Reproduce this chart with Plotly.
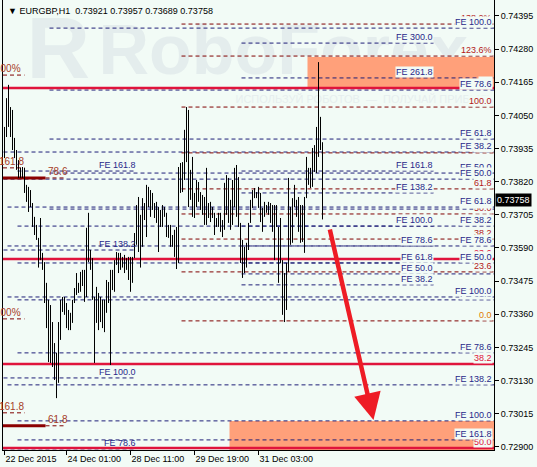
import plotly.graph_objects as go

# EURGBP H1 bars (bar 0 = first visible bar on the left)
highs = [0.74010, 0.74110, 0.74156, 0.74079, 0.74069, 0.73972, 0.73930, 0.73895, 0.73868, 0.73871,
         0.73868, 0.73809, 0.73802, 0.73791, 0.73746, 0.73698, 0.73670, 0.73625, 0.73694, 0.73573,
         0.73541, 0.73469, 0.73410, 0.73392, 0.73333, 0.73260, 0.73226, 0.73333, 0.73410, 0.73420,
         0.73420, 0.73399, 0.73375, 0.73365, 0.73410, 0.73451, 0.73503, 0.73469, 0.73507, 0.73514,
         0.73514, 0.73660, 0.73712, 0.73583, 0.73555, 0.73420, 0.73455, 0.73434, 0.73420, 0.73410,
         0.73410, 0.73479, 0.73472, 0.73514, 0.73514, 0.73548, 0.73576, 0.73573, 0.73573, 0.73559,
         0.73566, 0.73555, 0.73559, 0.73559, 0.73559, 0.73642, 0.73739, 0.73767, 0.73705, 0.73763,
         0.73746, 0.73809, 0.73802, 0.73791, 0.73781, 0.73746, 0.73750, 0.73732, 0.73722, 0.73739,
         0.73732, 0.73712, 0.73670, 0.73670, 0.73635, 0.73653, 0.73663, 0.73871, 0.73885, 0.73888,
         0.74000, 0.74079, 0.74069, 0.73861, 0.73906, 0.73781, 0.73826, 0.73819, 0.73784, 0.73774,
         0.73767, 0.73868, 0.73746, 0.73750, 0.73732, 0.73712, 0.73694, 0.73712, 0.73712, 0.73687,
         0.73816, 0.73843, 0.73833, 0.73757, 0.73826, 0.73868, 0.73878, 0.73836, 0.73677, 0.73618,
         0.73594, 0.73608, 0.73677, 0.73757, 0.73791, 0.73798, 0.73784, 0.73802, 0.73781, 0.73729,
         0.73750, 0.73739, 0.73750, 0.73746, 0.73739, 0.73739, 0.73739, 0.73663, 0.73694, 0.73548,
         0.73503, 0.73538, 0.73833, 0.73732, 0.73763, 0.73809, 0.73757, 0.73767, 0.73739, 0.73739,
         0.73767, 0.73906, 0.73868, 0.73868, 0.73937, 0.73947, 0.74010, 0.74235, 0.74045, 0.73957]
lows = [0.73902, 0.73975, 0.74010, 0.73975, 0.73930, 0.73902, 0.73861, 0.73833, 0.73833, 0.73833,
        0.73781, 0.73750, 0.73715, 0.73732, 0.73663, 0.73635, 0.73618, 0.73522, 0.73548, 0.73514,
        0.73399, 0.73312, 0.73194, 0.73191, 0.73177, 0.73132, 0.73069, 0.73122, 0.73271, 0.73368,
        0.73358, 0.73312, 0.73305, 0.73305, 0.73330, 0.73399, 0.73427, 0.73434, 0.73438, 0.73458,
        0.73403, 0.73420, 0.73541, 0.73514, 0.73410, 0.73191, 0.73330, 0.73305, 0.73333, 0.73312,
        0.73298, 0.73365, 0.73399, 0.73184, 0.73444, 0.73438, 0.73531, 0.73503, 0.73514, 0.73522,
        0.73503, 0.73514, 0.73479, 0.73438, 0.73469, 0.73555, 0.73601, 0.73576, 0.73522, 0.73594,
        0.73687, 0.73628, 0.73732, 0.73698, 0.73722, 0.73694, 0.73677, 0.73576, 0.73663, 0.73663,
        0.73698, 0.73628, 0.73625, 0.73594, 0.73594, 0.73559, 0.73517, 0.73538, 0.73781, 0.73784,
        0.73826, 0.73888, 0.73732, 0.73757, 0.73698, 0.73694, 0.73732, 0.73750, 0.73722, 0.73705,
        0.73670, 0.73670, 0.73694, 0.73680, 0.73694, 0.73635, 0.73663, 0.73663, 0.73646, 0.73628,
        0.73653, 0.73705, 0.73677, 0.73653, 0.73670, 0.73732, 0.73698, 0.73663, 0.73538, 0.73486,
        0.73503, 0.73522, 0.73583, 0.73677, 0.73729, 0.73763, 0.73763, 0.73729, 0.73680, 0.73646,
        0.73698, 0.73712, 0.73705, 0.73677, 0.73646, 0.73548, 0.73663, 0.73469, 0.73538, 0.73358,
        0.73333, 0.73375, 0.73507, 0.73601, 0.73608, 0.73732, 0.73698, 0.73646, 0.73608, 0.73611,
        0.73573, 0.73763, 0.73809, 0.73798, 0.73802, 0.73854, 0.73850, 0.73906, 0.73930, 0.73689]

symbol_info = "▼ EURGBP,H1  0.73921 0.73957 0.73689 0.73758"
last_price = 0.73758

time_ticks = [0, 31, 63, 95, 127]
time_labels = ["22 Dec 2015", "24 Dec 01:00", "28 Dec 11:00", "29 Dec 19:00", "31 Dec 03:00"]
price_ticks = [0.74395, 0.74280, 0.74165, 0.74050, 0.73935, 0.73820, 0.73705,
               0.73590, 0.73475, 0.73360, 0.73245, 0.73130, 0.73015, 0.72900]

# fibo retracement (dark red dashed), starts at bar 88.5
retr_prices = [0.74367, 0.74256, 0.74079, 0.73920, 0.73795, 0.73708, 0.73621, 0.73507, 0.73337]
retr_labels = ["138.2%", "123.6%", "100.0", "78.6", "61.8", "50.0", "38.2", "23.6", "0.0"]

# fibo retracement (red solid), full width
red_prices = [0.74145, 0.73552, 0.73187, 0.72896]
red_labels = ["0.0", "23.6", "38.2", "50.0"]

# fibo expansions labelled at the right border
fe_prices = [0.74353, 0.74138, 0.73968, 0.73923, 0.73850, 0.73829, 0.73725, 0.73732, 0.73666,
             0.73597, 0.73538, 0.73410, 0.73420, 0.73226, 0.73115, 0.72990, 0.72924]
fe_start = [22.5, 22.5, 22.5, -0.5, 22.5, -0.5, 22.5, 1.5, 6.5, 1.5, 6.5, 6.5, 1.5, 6.5, 1.5, 6.5, 6.5]
fe_labels = ["FE 100.0", "FE 78.6", "FE 61.8", "FE 38.2", "FE 50.0", "FE 50.0", "FE 38.2", "FE 61.8",
             "FE 38.2", "FE 78.6", "FE 50.0", "FE 61.8", "FE 100.0", "FE 78.6", "FE 138.2",
             "FE 100.0", "FE 161.8"]

# fibo expansion in the middle (starts at bar 118.5)
mid_prices = [0.74301, 0.74180, 0.73857, 0.73781, 0.73666, 0.73597, 0.73538, 0.73500, 0.73462]
mid_end = [214.5, 245, 214.5, 214.5, 214.5, 214.5, 214.5, 245, 214.5]
mid_labels = ["FE 300.0", "FE 261.8", "FE 161.8", "FE 138.2", "FE 100.0", "FE 78.6",
              "FE 61.8", "FE 50.0", "FE 38.2"]

# fibo expansion on the left (ends at bar 65.5)
left_prices = [0.73857, 0.73583, 0.73139, 0.72893]
left_start = [6.5, -0.5, -0.5, -0.5]
left_labels = ["FE 161.8", "FE 138.2", "FE 100.0", "FE 78.6"]

# small marks at the left border
mark_prices = [0.74190, 0.73868, 0.73344, 0.73018]
mark_labels = ["100%", "161.8", "100%", "161.8"]
anchor_prices = [0.73833, 0.72973]
anchor_labels = ["78.6", "61.8"]

# target zones
zone_x0 = [151.5, 112.5]
zone_top = [0.74253, 0.72990]
zone_bottom = [0.74145, 0.72880]

arrow_from = (162.5, 0.73659)
arrow_to = (184.5, 0.72993)

BG = "#f2fbf6"
NAVY = "#1e1e78"
NAVY_TXT = "#28288a"
MAROON = "#800000"
RED = "#e0143c"
BROWN = "#a63c28"
FONT = "Liberation Sans"
XMIN, XMAX = -0.75, 244.75


def segs(starts, ends, prices):
    xs, ys = [], []
    for x0, x1, p in zip(starts, ends, prices):
        xs += [x0, x1, None]
        ys += [p, p, None]
    return xs, ys


def line_trace(starts, ends, prices, color, width=1, dash="4px,3px"):
    xs, ys = segs(starts, ends, prices)
    return go.Scatter(x=xs, y=ys, mode="lines", hoverinfo="skip", showlegend=False,
                      line=dict(color=color, width=width, dash=dash))


traces = []
# watermark
traces.append(go.Scatter(x=[11, 47], y=[0.74256, 0.74256], mode="text", text=["R", "RoboForex"],
                         textposition="middle right", hoverinfo="skip", showlegend=False,
                         textfont=dict(family=FONT, size=[88, 70], color="#e4eded", weight="bold")))
traces.append(go.Scatter(x=[115.5], y=[0.74104], mode="text",
                         text=["ИСПОЛЬЗУЙ РОБОТОВ  —  ПОЛУЧАЙ ПРИБЫЛЬ"],
                         textposition="middle right", hoverinfo="skip", showlegend=False,
                         textfont=dict(family=FONT, size=11, color="#e6eeee")))
# zones
for x0, top, bot in zip(zone_x0, zone_top, zone_bottom):
    traces.append(go.Scatter(x=[x0, XMAX, XMAX, x0, x0], y=[top, top, bot, bot, top], mode="lines",
                             fill="toself", fillcolor="#ffa07a", line=dict(width=0),
                             hoverinfo="skip", showlegend=False))

traces.append(line_trace(fe_start, [XMAX] * len(fe_prices), fe_prices, NAVY))
traces.append(line_trace([118.5] * len(mid_prices), mid_end, mid_prices, NAVY))
traces.append(line_trace(left_start, [65.5] * len(left_prices), left_prices, NAVY))
traces.append(line_trace([88.5] * len(retr_prices), [XMAX] * len(retr_prices), retr_prices, MAROON))
traces.append(line_trace([XMIN] * len(mark_prices), [10] * len(mark_prices), mark_prices, MAROON))
traces.append(line_trace([20.5] * len(anchor_prices), [30.5] * len(anchor_prices), anchor_prices, MAROON))
traces.append(line_trace([XMIN] * len(anchor_prices), [20.5] * len(anchor_prices), anchor_prices,
                         "#8b0000", width=3, dash="solid"))
traces.append(line_trace([XMIN] * len(red_prices), [XMAX] * len(red_prices), red_prices, RED,
                         width=2.5, dash="solid"))

# price bars
bx, by = [], []
for i, (h, l) in enumerate(zip(highs, lows)):
    bx += [i, i, None]
    by += [l, h, None]
traces.append(go.Scatter(x=bx, y=by, mode="lines", line=dict(color="black", width=1),
                         hoverinfo="skip", showlegend=False))

fig = go.Figure(data=traces)

ann = []


def label(text, x, y, xanchor, color, bg=True, size=9):
    ann.append(dict(x=x, y=y, xref="x", yref="y", text=text, showarrow=False, xanchor=xanchor,
                    yanchor="bottom", borderpad=0, bgcolor=BG if bg else None,
                    font=dict(family=FONT, size=size, color=color)))


for p, t in zip(retr_prices, retr_labels):
    label(t, 244, p, "right", "#e07b00" if t == "0.0" else "#b31818")
for p, t in zip(red_prices, red_labels):
    label(t, 244, p, "right", RED)
for p, t in zip(fe_prices, fe_labels):
    label(t, 244, p, "right", NAVY_TXT)
for p, t in zip(mid_prices, mid_labels):
    label(t, 214.5, p, "right", NAVY_TXT)
for p, t in zip(left_prices, left_labels):
    label(t, 66, p, "right", NAVY_TXT, bg=False)
for p, t in zip(mark_prices, mark_labels):
    label(t, 8.5 if t == "100%" else 10, p, "right", BROWN, bg=False, size=10)
for p, t in zip(anchor_prices, anchor_labels):
    label(t, 21, p, "left", BROWN, bg=False, size=10)

ann.append(dict(x=arrow_to[0], y=arrow_to[1], ax=arrow_from[0], ay=arrow_from[1], xref="x", yref="y",
                axref="x", ayref="y", text="", showarrow=True, arrowhead=2, arrowsize=1.2,
                arrowwidth=4.5, arrowcolor="#ee1c25"))
ann.append(dict(x=0.006, y=0.9756, xref="paper", yref="paper", text=symbol_info, showarrow=False,
                xanchor="left", yanchor="middle", font=dict(family=FONT, size=9, color="black")))
ann.append(dict(x=1.003, y=last_price, xref="paper", yref="y", text="%.5f" % last_price,
                showarrow=False, xanchor="left", yanchor="middle", bgcolor="black", borderpad=1,
                font=dict(family=FONT, size=9, color="white")))

fig.update_layout(template="none", width=537, height=467, plot_bgcolor=BG, paper_bgcolor=BG,
                  margin=dict(l=3, r=43, t=0, b=17), showlegend=False, annotations=ann,
                  font=dict(family=FONT, size=9, color="black"),
                  xaxis=dict(range=[XMIN, XMAX], tickvals=time_ticks, ticktext=time_labels,
                             ticks="outside", ticklen=4, tickcolor="black", showline=True,
                             linecolor="black", linewidth=1, showgrid=False, zeroline=False,
                             ticklabelposition="outside right", automargin=False,
                             tickfont=dict(family=FONT, size=9, color="black")),
                  yaxis=dict(range=[0.72889, 0.744505], side="right", tickvals=price_ticks,
                             tickformat=".5f", ticks="outside", ticklen=4, tickcolor="black",
                             showline=True, mirror=True, linecolor="black", linewidth=1,
                             showgrid=False, zeroline=False, automargin=False,
                             tickfont=dict(family=FONT, size=9, color="black")))

fig.write_html("out.html", config={"displayModeBar": False},
               post_script="document.body.style.margin='0';")
